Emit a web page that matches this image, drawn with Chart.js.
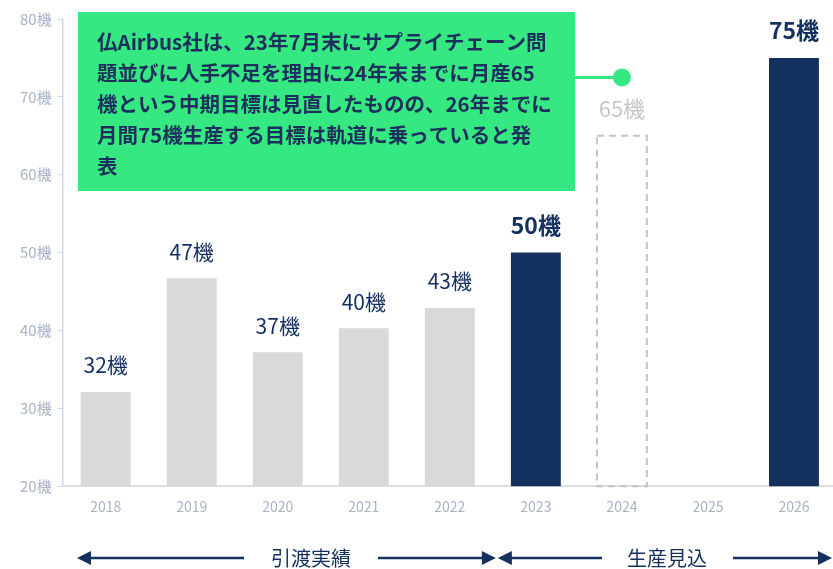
<!DOCTYPE html>
<html lang="ja">
<head>
<meta charset="UTF-8">
<title>Airbus 月産機数</title>
<script src="https://cdn.jsdelivr.net/npm/chart.js@4.4.0/dist/chart.umd.min.js"></script>
<style>
  html, body { margin: 0; padding: 0; background: #fff; overflow: hidden; }
  #wrap { width: 840px; height: 569px; }
</style>
</head>
<body>
<div id="wrap"><canvas id="chart" width="840" height="569"></canvas></div>
<script>
const years = ['2018', '2019', '2020', '2021', '2022', '2023', '2024', '2025', '2026'];
const monthly = [32.1, 46.7, 37.2, 40.3, 42.9, 50, 65, null, 75];
const valueLabels = ['32機', '47機', '37機', '40機', '43機', '50機', '65機', '', '75機'];
const yTicks = [20, 30, 40, 50, 60, 70, 80];
const noteLines = [
  '仏Airbus社は、23年7月末にサプライチェーン問',
  '題並びに人手不足を理由に24年末までに月産65',
  '機という中期目標は見直したものの、26年までに',
  '月間75機生産する目標は軌道に乗っていると発',
  '表'
];
const spanLabels = ['引渡実績', '生産見込'];

const NAVY = '#14305e';
const GRAY = '#d9d9d9';
const GREEN = '#35e882';
const TICK = '#a9b3c6';
const FONT = '"Noto Sans CJK JP", "Noto Sans", sans-serif';

const barColors = years.map((y, i) => i === 6 ? 'rgba(0,0,0,0)' : (i >= 5 ? NAVY : GRAY));

// labels, dashed plan bar, callout and bottom arrows
const overlay = {
  id: 'overlay',
  afterDatasetsDraw(chart) {
    const ctx = chart.ctx;
    const meta = chart.getDatasetMeta(0);
    const xs = chart.scales.x, ys = chart.scales.y;

    // dashed 2024 bar
    const pb = meta.data[6];
    const base = ys.getPixelForValue(20);
    ctx.save();
    ctx.strokeStyle = '#c4c4c4';
    ctx.lineWidth = 2;
    ctx.setLineDash([7, 5]);
    ctx.strokeRect(pb.x - pb.width / 2, pb.y, pb.width, base - pb.y);
    ctx.restore();

    // value labels
    ctx.save();
    ctx.textAlign = 'center';
    ctx.textBaseline = 'bottom';
    meta.data.forEach((bar, i) => {
      if (!valueLabels[i]) return;
      if (i === 6) {
        ctx.fillStyle = '#c8c8c8';
        ctx.font = '22px ' + FONT;
      } else if (i >= 5) {
        ctx.fillStyle = NAVY;
        ctx.font = 'bold 23px ' + FONT;
      } else {
        ctx.fillStyle = NAVY;
        ctx.font = '21px ' + FONT;
      }
      ctx.fillText(valueLabels[i], bar.x, bar.y - 16);
    });
    ctx.restore();

    // callout box
    ctx.save();
    ctx.fillStyle = GREEN;
    ctx.fillRect(78, 12, 497, 179);
    const cx = xs.getPixelForValue(6), cy = ys.getPixelForValue(72.5);
    ctx.strokeStyle = GREEN;
    ctx.lineWidth = 3;
    ctx.beginPath();
    ctx.moveTo(575, cy);
    ctx.lineTo(cx, cy);
    ctx.stroke();
    ctx.beginPath();
    ctx.arc(cx, cy, 9, 0, Math.PI * 2);
    ctx.fillStyle = GREEN;
    ctx.fill();
    ctx.fillStyle = '#1d2f5c';
    ctx.font = 'bold 20.5px ' + FONT;
    ctx.textAlign = 'left';
    ctx.textBaseline = 'middle';
    noteLines.forEach((t, i) => ctx.fillText(t, 97, 42 + i * 31));
    ctx.restore();

    // bottom span arrows
    const ay = 558;
    const split = (xs.getPixelForValue(4) + xs.getPixelForValue(5)) / 2 + 4;
    const leftX = 77, rightX = 832;
    ctx.save();
    ctx.strokeStyle = NAVY;
    ctx.fillStyle = NAVY;
    ctx.lineWidth = 2.5;
    const head = (x, dir) => {
      ctx.beginPath();
      ctx.moveTo(x, ay);
      ctx.lineTo(x - dir * 14, ay - 7);
      ctx.lineTo(x - dir * 14, ay + 7);
      ctx.closePath();
      ctx.fill();
    };
    const seg = (a, b) => { ctx.beginPath(); ctx.moveTo(a, ay); ctx.lineTo(b, ay); ctx.stroke(); };
    seg(leftX + 6, 244); seg(378, split - 6);
    head(leftX, -1); head(split - 1, 1);
    seg(split + 6, 602); seg(733, rightX - 6);
    head(split + 1, -1); head(rightX, 1);
    ctx.font = '20px ' + FONT;
    ctx.textAlign = 'center';
    ctx.textBaseline = 'middle';
    ctx.fillText(spanLabels[0], 311, ay);
    ctx.fillText(spanLabels[1], 667, ay);
    ctx.restore();
  }
};

new Chart(document.getElementById('chart'), {
  type: 'bar',
  data: {
    labels: years,
    datasets: [{
      data: monthly,
      backgroundColor: barColors,
      borderWidth: 0,
      barPercentage: 0.58,
      categoryPercentage: 1
    }]
  },
  options: {
    responsive: false,
    animation: false,
    layout: { padding: { left: 14, right: 3, top: 19, bottom: 50 } },
    plugins: { legend: { display: false }, tooltip: { enabled: false } },
    scales: {
      x: {
        grid: { display: false },
        border: { color: '#dedede', width: 2 },
        ticks: { color: TICK, font: { family: FONT, size: 14 }, padding: 4 }
      },
      y: {
        min: 20,
        max: 80,
        afterBuildTicks: s => { s.ticks = yTicks.map(v => ({ value: v })); },
        grid: { drawOnChartArea: false, drawTicks: true, tickLength: 5, color: '#d3d9e3' },
        border: { color: '#d3d9e3', width: 1.5 },
        ticks: { color: TICK, font: { family: FONT, size: 15 }, padding: 6, callback: v => v + '機' }
      }
    }
  },
  plugins: [overlay]
});
</script>
</body>
</html>
